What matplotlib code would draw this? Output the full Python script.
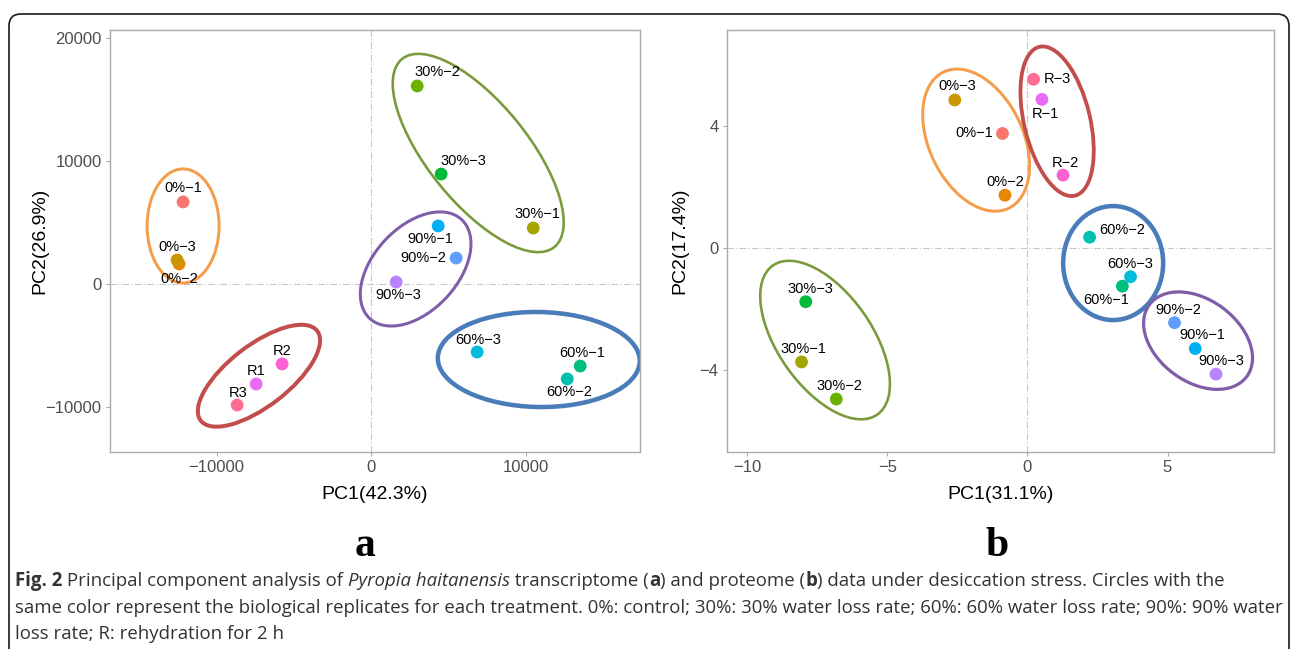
import matplotlib
matplotlib.use("Agg")
import matplotlib.pyplot as plt
from matplotlib.patches import Ellipse, FancyBboxPatch
from matplotlib import transforms

plt.rcParams['font.family'] = ['Liberation Sans', 'DejaVu Sans']

# (a) transcriptome PCA scores
labels_a = ["0%−1", "0%−2", "0%−3", "30%−1", "30%−2", "30%−3", "60%−1", "60%−2", "60%−3",
            "90%−1", "90%−2", "90%−3", "R1", "R2", "R3"]
pc1_a = [-12170, -12430, -12560, 10490, 2980, 4530, 13530, 12690, 6860,
         4340, 5500, 1620, -7440, -5760, -8670]
pc2_a = [6670, 1630, 1950, 4550, 16100, 8940, -6670, -7720, -5530,
         4720, 2110, 160, -8130, -6500, -9840]

# (b) proteome PCA scores
labels_b = ["0%−1", "0%−2", "0%−3", "30%−1", "30%−2", "30%−3", "60%−1", "60%−2", "60%−3",
            "90%−1", "90%−2", "90%−3", "R−1", "R−2", "R−3"]
pc1_b = [-0.89, -0.80, -2.59, -8.06, -6.82, -7.91, 3.39, 2.22, 3.68,
         5.99, 5.25, 6.73, 0.52, 1.27, 0.22]
pc2_b = [3.77, 1.74, 4.87, -3.74, -4.96, -1.76, -1.25, 0.36, -0.94,
         -3.30, -2.45, -4.14, 4.89, 2.40, 5.55]

point_colors = ["#F8766D", "#E58700", "#C99800", "#A3A500", "#6BB100", "#00BA38", "#00BF7D",
                "#00C0AF", "#00BCD8", "#00B0F6", "#619CFF", "#B983FF", "#E76BF3", "#FD61D1", "#FF6C91"]

# label offsets from point, in pixels (dx, dy, ha)
offs_a = [(0, 14, 'center'), (0, -15, 'center'), (0, 13, 'center'), (4, 14, 'center'),
          (20, 14, 'center'), (22, 13, 'center'), (2, 13, 'center'), (2, -13, 'center'),
          (1, 12, 'center'), (-8, -13, 'center'), (-10, 0, 'right'), (2, -13, 'center'),
          (0, 13, 'center'), (0, 13, 'center'), (1, 12, 'center')]
offs_b = [(-9, 0, 'right'), (0, 13, 'center'), (2, 14, 'center'), (2, 13, 'center'),
          (3, 13, 'center'), (5, 13, 'center'), (-16, -14, 'center'), (10, 7, 'left'),
          (0, 13, 'center'), (7, 14, 'center'), (4, 13, 'center'), (5, 13, 'center'),
          (3, -15, 'center'), (2, 12, 'center'), (10, 0, 'left')]

# group circles: colour, centre (data), width/height (px), angle, line width (px)
ell_a = [("#F59D4D", -12170, 4720, 72, 114, 0, 3),
         ("#7A9A3C", 6930, 10650, 242, 100, -51, 2.6),
         ("#7E5EA8", 2880, 1220, 135, 84, 47, 3),
         ("#4A7CBA", 10850, -6140, 202, 95, -1, 4.5),
         ("#C24E4C", -7260, -7460, 147, 61, 37.6, 4)]
ell_b = [("#F59D4D", -1.83, 3.55, 151, 94, -64.5, 3),
         ("#C24E4C", 1.06, 4.17, 153, 66, -76.6, 3.8),
         ("#4A7CBA", 3.06, -0.49, 100, 114, 0, 4.5),
         ("#7E5EA8", 6.09, -3.04, 121, 82, -36.3, 3.2),
         ("#7A9A3C", -7.22, -3.02, 182, 94, -55, 2.6)]

fig = plt.figure(figsize=(12.9, 6.49), dpi=100)
W, H = 1290, 649

ax_a = fig.add_axes([110 / W, 1 - 452 / H, 530 / W, 422 / H])
ax_b = fig.add_axes([727 / W, 1 - 452 / H, 547 / W, 422 / H])


def draw_panel(ax, x, y, labels, offs, ells, xlim, ylim, xt, yt, xl, yl, ylpad):
    ax.axhline(0, color='#c8c8c8', lw=0.8, ls=(0, (6, 2, 1, 2)), zorder=1)
    ax.axvline(0, color='#c8c8c8', lw=0.8, ls=(0, (6, 2, 1, 2)), zorder=1)
    for col, cx, cy, w, h, ang, lw in ells:
        tr = fig.dpi_scale_trans + transforms.ScaledTranslation(cx, cy, ax.transData)
        e = Ellipse((0, 0), w / 100, h / 100, angle=ang, transform=tr,
                    fill=False, ec=col, lw=lw * 0.72, zorder=2)
        ax.add_patch(e)
    ax.scatter(x, y, s=85, c=point_colors, edgecolors='none', zorder=3)
    for xi, yi, lab, (dx, dy, ha) in zip(x, y, labels, offs):
        ax.annotate(lab, (xi, yi), xytext=(dx, dy), textcoords='offset pixels',
                    ha=ha, va='center', fontsize=10.5, color='black', zorder=4)
    ax.set_xlim(xlim)
    ax.set_ylim(ylim)
    ax.set_xticks(xt)
    ax.set_yticks(yt)
    for s in ax.spines.values():
        s.set_color('#ababab')
        s.set_linewidth(1.0)
    ax.tick_params(colors='#ababab', labelcolor='#4d4d4d', labelsize=12,
                   length=3, width=0.8, pad=3)
    ax.set_xlabel(xl, fontsize=14, labelpad=8)
    ax.set_ylabel(yl, fontsize=14, labelpad=ylpad)


draw_panel(ax_a, pc1_a, pc2_a, labels_a, offs_a, ell_a,
           (-16900, 17400), (-13660, 20650),
           [-10000, 0, 10000], [-10000, 0, 10000, 20000],
           "PC1(42.3%)", "PC2(26.9%)", -2)
draw_panel(ax_b, pc1_b, pc2_b, labels_b, offs_b, ell_b,
           (-10.72, 8.8), (-6.7, 7.17),
           [-10, -5, 0, 5], [-4, 0, 4],
           "PC1(31.1%)", "PC2(17.4%)", 8)

# panel letters
fig.text(365.5 / W, 1 - 556 / H, "a", family=['Liberation Serif', 'DejaVu Serif'],
         fontweight='bold', fontsize=30, ha='center', va='baseline')
fig.text(997.5 / W, 1 - 556 / H, "b", family=['Liberation Serif', 'DejaVu Serif'],
         fontweight='bold', fontsize=30, ha='center', va='baseline')

# rounded frame
frame = FancyBboxPatch((0.09, -0.5), 12.8, 6.35 + 0.5,
                       boxstyle="round,pad=0,rounding_size=0.12",
                       transform=fig.dpi_scale_trans, fill=False, ec='#1a1a1a', lw=1.2)
fig.add_artist(frame)

# caption
cap_font = ['Open Sans', 'DejaVu Sans']
cap_lines = [
    [("Fig. 2", 'bold', 'normal'), (" Principal component analysis of ", 'normal', 'normal'),
     ("Pyropia haitanensis", 'normal', 'italic'), (" transcriptome (", 'normal', 'normal'),
     ("a", 'bold', 'normal'), (") and proteome (", 'normal', 'normal'), ("b", 'bold', 'normal'),
     (") data under desiccation stress. Circles with the", 'normal', 'normal')],
    [("same color represent the biological replicates for each treatment. 0%: control; "
      "30%: 30% water loss rate; 60%: 60% water loss rate; 90%: 90% water", 'normal', 'normal')],
    [("loss rate; R: rehydration for 2 h", 'normal', 'normal')],
]
cap_base = [586, 613, 639]

renderer = fig.canvas.get_renderer()


def seg_width(s, fs, w, st):
    t1 = fig.text(0, 0, "|" + s + "|", fontsize=fs, fontweight=w, fontstyle=st, family=cap_font)
    t2 = fig.text(0, 0, "||", fontsize=fs, fontweight=w, fontstyle=st, family=cap_font)
    wd = t1.get_window_extent(renderer).width - t2.get_window_extent(renderer).width
    t1.remove()
    t2.remove()
    return wd


fs0 = 12
w2 = seg_width(cap_lines[1][0][0], fs0, 'normal', 'normal')
cap_fs = fs0 * 1262 / w2

for line, yb in zip(cap_lines, cap_base):
    xpos = 15
    for s, w, st in line:
        fig.text(xpos / W, 1 - yb / H, s, fontsize=cap_fs, fontweight=w, fontstyle=st,
                 family=cap_font, color='#333333', ha='left', va='baseline')
        xpos += seg_width(s, cap_fs, w, st)

fig.savefig("out.png", dpi=100)
